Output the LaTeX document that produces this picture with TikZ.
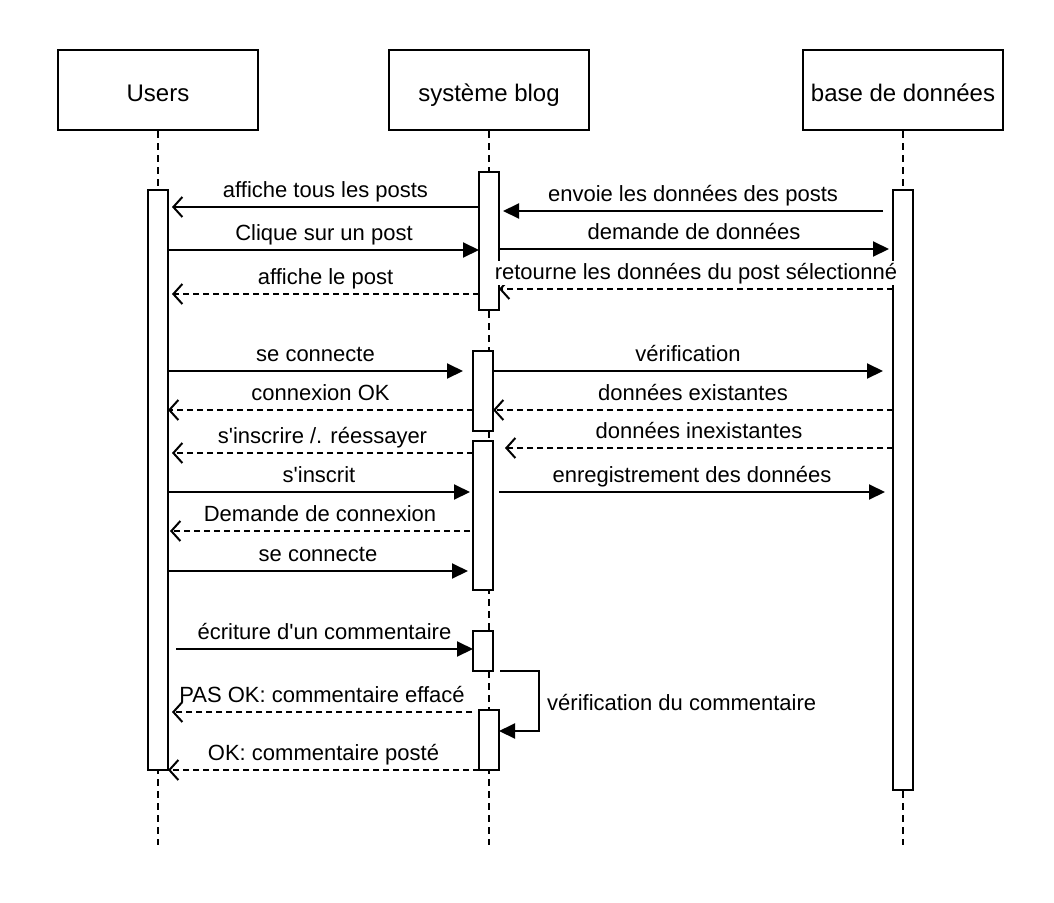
\documentclass[tikz,border=0pt]{standalone}
\usepackage{fontspec}
\setmainfont{Liberation Sans}[Ligatures=TeXOff]
\usetikzlibrary{arrows.meta}
\begin{document}
\begin{tikzpicture}[x=1pt,y=-1pt,
  every node/.style={font=\fontsize{22}{26}\selectfont},
  actor/.style={draw, line width=2pt, minimum width=200pt, minimum height=80pt, inner sep=0pt,
    font=\fontsize{24}{28}\selectfont, text height=22pt, text depth=0pt},
  lifeline/.style={line width=2pt, dash pattern=on 7pt off 5pt},
  bar/.style={draw, fill=white, line width=2pt},
  sync/.style={line width=2pt, -{Triangle[length=16pt,width=15pt]}},
  reply/.style={line width=2pt, -{Straight Barb[length=9pt,width=20pt]}},
  ret/.style={reply, dash pattern=on 6pt off 4pt},
  lbl/.style={midway, anchor=base, yshift=10pt, inner sep=0pt},
  lblbg/.style={lbl, fill=white, inner xsep=1pt, inner ysep=1.5pt}
]
\useasboundingbox (0,0) rectangle (1054,902);

% actors
\node[actor] (users) at (158,90) {Users};
\node[actor] (blog) at (489,90) {système blog};
\node[actor] (db) at (903,90) {base de données};

% lifelines
\coordinate (uend) at (158,845);
\coordinate (bend) at (489,845);
\coordinate (dend) at (903,845);
\draw[lifeline] (users.south) -- (uend);
\draw[lifeline] (blog.south) -- (bend);
\draw[lifeline] (db.south) -- (dend);

% activation bars
\draw[bar] (148,190) rectangle (168,770);
\draw[bar] (479,172) rectangle (499,310);
\draw[bar] (893,190) rectangle (913,790);
\draw[bar] (473,351) rectangle (493,431);
\draw[bar] (473,441) rectangle (493,590);
\draw[bar] (473,631) rectangle (493,671);
\draw[bar] (479,710) rectangle (499,770);

% message end points
\coordinate (m1a) at (479,207); \coordinate (m1b) at (172,207);
\coordinate (m2a) at (883,211); \coordinate (m2b) at (503,211);
\coordinate (m3a) at (169,250); \coordinate (m3b) at (479,250);
\coordinate (m4a) at (499,249); \coordinate (m4b) at (889,249);
\coordinate (m5a) at (479,294); \coordinate (m5b) at (172,294);
\coordinate (m6a) at (893,289); \coordinate (m6b) at (499,289);
\coordinate (m7a) at (168,371); \coordinate (m7b) at (463,371);
\coordinate (m8a) at (493,371); \coordinate (m8b) at (883,371);
\coordinate (m9a) at (473,410); \coordinate (m9b) at (168,410);
\coordinate (m10a) at (893,410); \coordinate (m10b) at (493,410);
\coordinate (m11a) at (473,453); \coordinate (m11b) at (172,453);
\coordinate (m12a) at (893,448); \coordinate (m12b) at (505,448);
\coordinate (m13a) at (168,492); \coordinate (m13b) at (470,492);
\coordinate (m14a) at (499,492); \coordinate (m14b) at (885,492);
\coordinate (m15a) at (470,531); \coordinate (m15b) at (170,531);
\coordinate (m16a) at (168,571); \coordinate (m16b) at (468,571);
\coordinate (m17a) at (176,649); \coordinate (m17b) at (473,649);
\coordinate (s1) at (500,671); \coordinate (s2) at (539,671);
\coordinate (s3) at (539,731); \coordinate (s4) at (499,731);
\coordinate (m19a) at (472,712); \coordinate (m19b) at (172,712);
\coordinate (m20a) at (479,770); \coordinate (m20b) at (168,770);

% messages
\draw[reply] (m1a) -- node[lbl]{affiche tous les posts} (m1b);
\draw[sync] (m2a) -- node[lbl]{envoie les données des posts} (m2b);
\draw[sync] (m3a) -- node[lbl]{Clique sur un post} (m3b);
\draw[sync] (m4a) -- node[lbl]{demande de données} (m4b);
\draw[ret] (m5a) -- node[lbl]{affiche le post} (m5b);
\draw[ret] (m6a) -- node[lblbg]{retourne les données du post sélectionné} (m6b);
\draw[sync] (m7a) -- node[lbl]{se connecte} (m7b);
\draw[sync] (m8a) -- node[lbl]{vérification} (m8b);
\draw[ret] (m9a) -- node[lbl]{connexion OK} (m9b);
\draw[ret] (m10a) -- node[lbl]{données existantes} (m10b);
\draw[ret] (m11a) -- node[lbl]{s'inscrire /. réessayer} (m11b);
\draw[ret] (m12a) -- node[lbl]{données inexistantes} (m12b);
\draw[sync] (m13a) -- node[lbl]{s'inscrit} (m13b);
\draw[sync] (m14a) -- node[lbl]{enregistrement des données} (m14b);
\draw[ret] (m15a) -- node[lbl]{Demande de connexion} (m15b);
\draw[sync] (m16a) -- node[lbl]{se connecte} (m16b);
\draw[sync] (m17a) -- node[lbl]{écriture d'un commentaire} (m17b);
\draw[sync] (s1) -- (s2) -- (s3) -- (s4);
\node[anchor=base west, inner sep=0pt] (selflbl) at (547,710) {vérification du commentaire};
\draw[ret] (m19a) -- node[lbl]{PAS OK: commentaire effacé} (m19b);
\draw[ret] (m20a) -- node[lbl]{OK: commentaire posté} (m20b);
\end{tikzpicture}
\end{document}
